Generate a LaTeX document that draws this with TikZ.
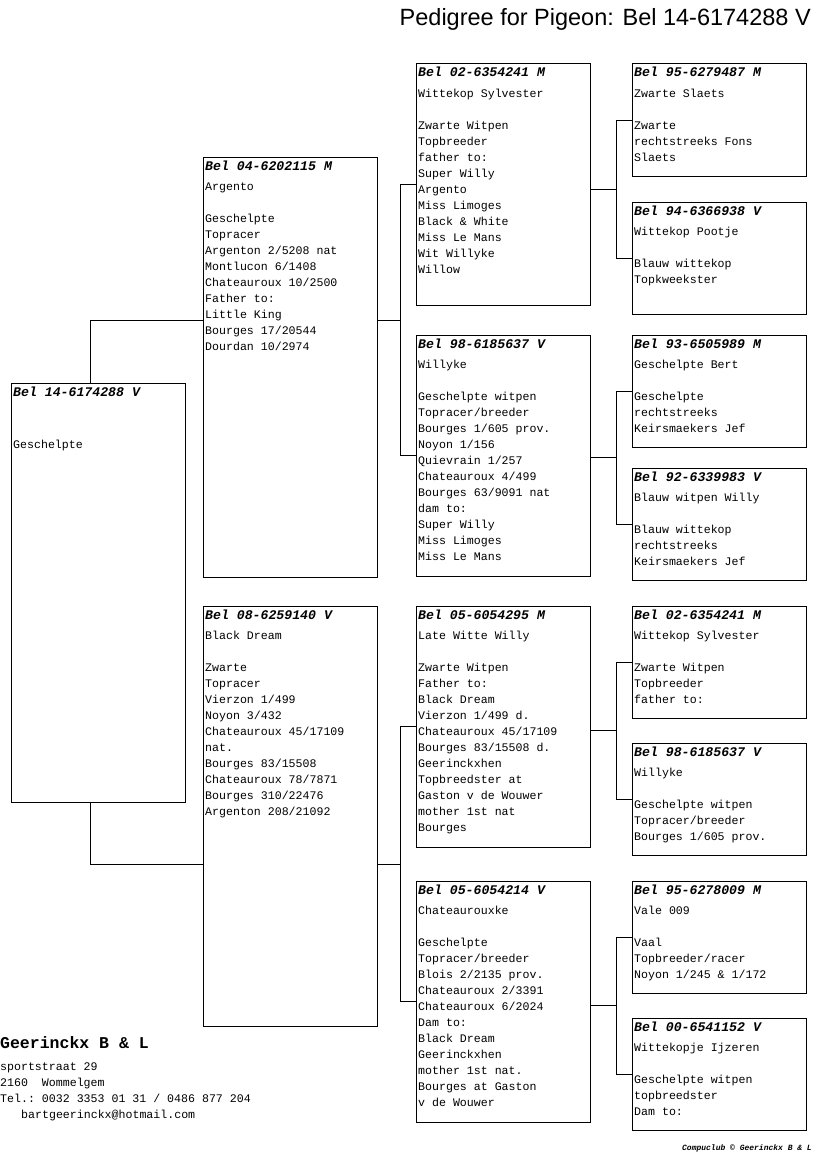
\documentclass[tikz,border=0pt]{standalone}
\usepackage{fontspec}
\setmainfont{Liberation Sans}
\setmonofont{Liberation Mono}
\usepackage{tikz}
\usetikzlibrary{calc}
\newcommand{\pigeon}[5]{%
  \node[pbox,minimum height=#3] (#1) at (#2) {};
  \node[ring] (#1-ring) at ([shift={(2pt,-13pt)}]#1.north west) {#4};
  \node[info] (#1-info) at ([shift={(2pt,-33pt)}]#1.north west) {\parbox[t]{168pt}{#5}};
}
\newcommand{\fork}[3]{%
  \coordinate (#1-j) at ($(#2.west)!.5!(#3.west)$);
  \draw[link] (#1.east |- #1-j) -| ([xshift=-16pt]#2.west) -- (#2.west);
  \draw[link] ([xshift=-16pt]#2.west) |- (#3.west);
}

\begin{document}
\begin{tikzpicture}[
  x=1pt,y=-1pt,
  pbox/.style={draw,line width=1pt,anchor=north west,minimum width=174pt,inner sep=0pt,outer sep=0pt},
  ring/.style={anchor=base west,inner sep=0pt,font=\ttfamily\bfseries\itshape\fontsize{13.2}{16}\selectfont},
  info/.style={anchor=base west,inner sep=0pt,font=\ttfamily\fontsize{11.6}{16}\selectfont},
  link/.style={line width=1pt},
  title/.style={anchor=base east,inner sep=0pt,font=\fontsize{23.5}{28}\selectfont},
  breeder/.style={anchor=base west,inner sep=0pt,font=\ttfamily\bfseries\fontsize{16.5}{20}\selectfont},
  club/.style={anchor=base east,inner sep=0pt,font=\ttfamily\bfseries\itshape\fontsize{8}{10}\selectfont}
]
\useasboundingbox (0,0) rectangle (816,1172);

\node[title] (title) at (811,26) {Pedigree for Pigeon: Bel 14-6174288 V};

% the pigeon itself
\pigeon{s0}{11,383}{419pt}{Bel 14-6174288 V}{\mbox{}\\[16pt]Geschelpte}

% parents
\pigeon{s1}{203,157}{420pt}{Bel 04-6202115 M}{Argento\\[16pt]Geschelpte\\Topracer\\Argenton 2/5208 nat\\Montlucon 6/1408\\Chateauroux 10/2500\\Father to:\\Little King\\Bourges 17/20544\\Dourdan 10/2974}
\pigeon{s2}{203,606}{420pt}{Bel 08-6259140 V}{Black Dream\\[16pt]Zwarte\\Topracer\\Vierzon 1/499\\Noyon 3/432\\Chateauroux 45/17109\\nat.\\Bourges 83/15508\\Chateauroux 78/7871\\Bourges 310/22476\\Argenton 208/21092}

% grandparents
\pigeon{s11}{416,64}{241pt}{Bel 02-6354241 M}{Wittekop Sylvester\\[16pt]Zwarte Witpen\\Topbreeder\\father to:\\Super Willy\\Argento\\Miss Limoges\\Black \& White\\Miss Le Mans\\Wit Willyke\\Willow}
\pigeon{s12}{416,335}{241pt}{Bel 98-6185637 V}{Willyke\\[16pt]Geschelpte witpen\\Topracer/breeder\\Bourges 1/605 prov.\\Noyon 1/156\\Quievrain 1/257\\Chateauroux 4/499\\Bourges 63/9091 nat\\dam to:\\Super Willy\\Miss Limoges\\Miss Le Mans}
\pigeon{s21}{416,606}{241pt}{Bel 05-6054295 M}{Late Witte Willy\\[16pt]Zwarte Witpen\\Father to:\\Black Dream\\Vierzon 1/499 d.\\Chateauroux 45/17109\\Bourges 83/15508 d.\\Geerinckxhen\\Topbreedster at\\Gaston v de Wouwer\\mother 1st nat\\Bourges}
\pigeon{s22}{416,881}{241pt}{Bel 05-6054214 V}{Chateaurouxke\\[16pt]Geschelpte\\Topracer/breeder\\Blois 2/2135 prov.\\Chateauroux 2/3391\\Chateauroux 6/2024\\Dam to:\\Black Dream\\Geerinckxhen\\mother 1st nat.\\Bourges at Gaston\\v de Wouwer}

% great-grandparents
\pigeon{s111}{632,64}{112pt}{Bel 95-6279487 M}{Zwarte Slaets\\[16pt]Zwarte\\rechtstreeks Fons\\Slaets}
\pigeon{s112}{632,202}{112pt}{Bel 94-6366938 V}{Wittekop Pootje\\[16pt]Blauw wittekop\\Topkweekster}
\pigeon{s121}{632,335}{112pt}{Bel 93-6505989 M}{Geschelpte Bert\\[16pt]Geschelpte\\rechtstreeks\\Keirsmaekers Jef}
\pigeon{s122}{632,468}{112pt}{Bel 92-6339983 V}{Blauw witpen Willy\\[16pt]Blauw wittekop\\rechtstreeks\\Keirsmaekers Jef}
\pigeon{s211}{632,606}{112pt}{Bel 02-6354241 M}{Wittekop Sylvester\\[16pt]Zwarte Witpen\\Topbreeder\\father to:}
\pigeon{s212}{632,743}{112pt}{Bel 98-6185637 V}{Willyke\\[16pt]Geschelpte witpen\\Topracer/breeder\\Bourges 1/605 prov.}
\pigeon{s221}{632,881}{112pt}{Bel 95-6278009 M}{Vale 009\\[16pt]Vaal\\Topbreeder/racer\\Noyon 1/245 \& 1/172}
\pigeon{s222}{632,1018}{112pt}{Bel 00-6541152 V}{Wittekopje Ijzeren\\[16pt]Geschelpte witpen\\topbreedster\\Dam to:}

% connectors
\fork{s1}{s11}{s12}
\fork{s2}{s21}{s22}
\fork{s11}{s111}{s112}
\fork{s12}{s121}{s122}
\fork{s21}{s211}{s212}
\fork{s22}{s221}{s222}
\draw[link] ([xshift=-8pt]s0.north) |- (s1.west |- s1-j);
\draw[link] ([xshift=-8pt]s0.south) |- (s2.west |- s2-j);

% breeder
\node[breeder] (name) at (0,1048) {Geerinckx B \& L};
\node[info] (address) at (0,1070) {\parbox[t]{300pt}{sportstraat 29\\2160\ \ Wommelgem\\Tel.: 0032 3353 01 31 / 0486 877 204\\\hspace*{21pt}bartgeerinckx@hotmail.com}};
\node[club] (compuclub) at (812,1150) {Compuclub © Geerinckx B \& L};
\end{tikzpicture}
\end{document}
